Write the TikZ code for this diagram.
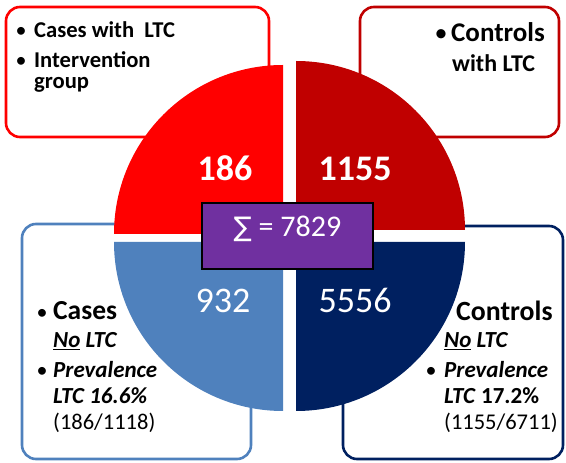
\documentclass[tikz,border=0pt]{standalone}
\usepackage{fontspec}
\setmainfont{Carlito}
\newfontfamily\symfont{DejaVu Sans}
\usepackage{xcolor}
\usepackage{tikz}
\definecolor{casered}{HTML}{FF0000}
\definecolor{ctrlred}{HTML}{C00000}
\definecolor{caseblue}{HTML}{4F81BD}
\definecolor{ctrlnavy}{HTML}{002060}
\definecolor{sumpurple}{HTML}{7030A0}
\tikzset{
  frame/.style={line width=2.6pt, rounded corners=14pt, fill=white},
  num/.style={text=white, font=\fontsize{36}{40}\selectfont, inner sep=0pt, anchor=base},
  numb/.style={num, font=\fontsize{36}{40}\selectfont\bfseries},
  line/.style={anchor=base west, inner sep=0pt, text=black},
  bul/.style={anchor=base, inner sep=0pt, text=black, font=\fontsize{22}{24}\selectfont},
  sumbox/.style={draw=black, line width=1.4pt, fill=sumpurple, minimum width=171pt, minimum height=66pt, inner sep=0pt},
}

\begin{document}
\begin{tikzpicture}[x=1pt, y=1pt]
  \useasboundingbox (0,0) rectangle (566,463);
  % frames behind the pie
  \draw[frame, draw=casered] (6,326) rectangle (269,456);
  \draw[frame, draw=ctrlred] (360,326) rectangle (559,456);
  \draw[frame, draw=caseblue] (22,4) rectangle (251,239);
  \draw[frame, draw=ctrlnavy] (343,4) rectangle (563,237);
  % pie quarters
  \def\r{169}
  \fill[casered] (283,229) -- ++(-\r,0) arc[start angle=180, end angle=90, radius=\r] -- cycle;
  \fill[ctrlred] (296,233) -- ++(\r,0) arc[start angle=0, end angle=90, radius=\r] -- cycle;
  \fill[caseblue] (283,221) -- ++(-\r,0) arc[start angle=180, end angle=270, radius=\r] -- cycle;
  \fill[ctrlnavy] (296,221) -- ++(\r,0) arc[start angle=0, end angle=-90, radius=\r] -- cycle;
  \node[numb] (n186) at (225,282) {186};
  \node[numb] (n1155) at (355,282) {1155};
  \node[num] (n932) at (223,150) {932};
  \node[num] (n5556) at (355,150) {5556};
  % total
  \node[sumbox] (sum) at (287.5,227) {};
  \node[text=white, font=\fontsize{30}{32}\selectfont, inner sep=0pt] (sumlab) at ([yshift=7pt]sum.center) {{\symfont\fontsize{27}{30}\selectfont ∑} = 7829};
  % top left
  \node[bul] (tlb1) at (21,425) {\textbullet};
  \node[line, font=\fontsize{22.6}{24}\selectfont\bfseries] (tl1) at (34,425) {Cases with \ LTC};
  \node[bul] (tlb2) at (21,395) {\textbullet};
  \node[line, font=\fontsize{22.6}{24}\selectfont\bfseries] (tl2) at (34,395) {Intervention};
  \node[line, font=\fontsize{22.6}{24}\selectfont\bfseries] (tl3) at (34,374) {group};
  % top right
  \node[bul, font=\fontsize{26}{28}\selectfont] (trb1) at (441,421) {\textbullet};
  \node[line, font=\fontsize{27}{28}\selectfont\bfseries] (tr1) at (451,421) {Controls};
  \node[line, font=\fontsize{24}{28}\selectfont\bfseries] (tr2) at (452,391) {with LTC};
  % bottom left
  \node[bul] (blb1) at (42,143) {\textbullet};
  \node[line, font=\fontsize{27.5}{28}\selectfont\bfseries] (bl1) at (53,143) {Cases};
  \node[line, font=\fontsize{23}{24}\selectfont\bfseries\itshape] (bl2) at (53,115) {\underline{No} LTC};
  \node[bul] (blb3) at (42,85) {\textbullet};
  \node[line, font=\fontsize{23}{24}\selectfont\bfseries\itshape] (bl3) at (53,85) {Prevalence};
  \node[line, font=\fontsize{23}{24}\selectfont\bfseries\itshape] (bl4) at (53,59) {LTC 16.6\%};
  \node[line, font=\fontsize{22.5}{24}\selectfont] (bl5) at (53,33) {(186/1118)};
  % bottom right
  \node[line, font=\fontsize{27.8}{28}\selectfont\bfseries] (br1) at (456,142) {Controls};
  \node[line, font=\fontsize{23}{24}\selectfont\bfseries\itshape] (br2) at (444,115) {\underline{No} LTC};
  \node[bul] (brb3) at (431,85) {\textbullet};
  \node[line, font=\fontsize{23}{24}\selectfont\bfseries\itshape] (br3) at (444,85) {Prevalence};
  \node[line, font=\fontsize{23}{24}\selectfont\bfseries] (br4) at (444,59) {\textit{LTC} 17.2\%};
  \node[line, font=\fontsize{22.5}{24}\selectfont] (br5) at (444,33) {(1155/6711)};
\end{tikzpicture}
\end{document}
